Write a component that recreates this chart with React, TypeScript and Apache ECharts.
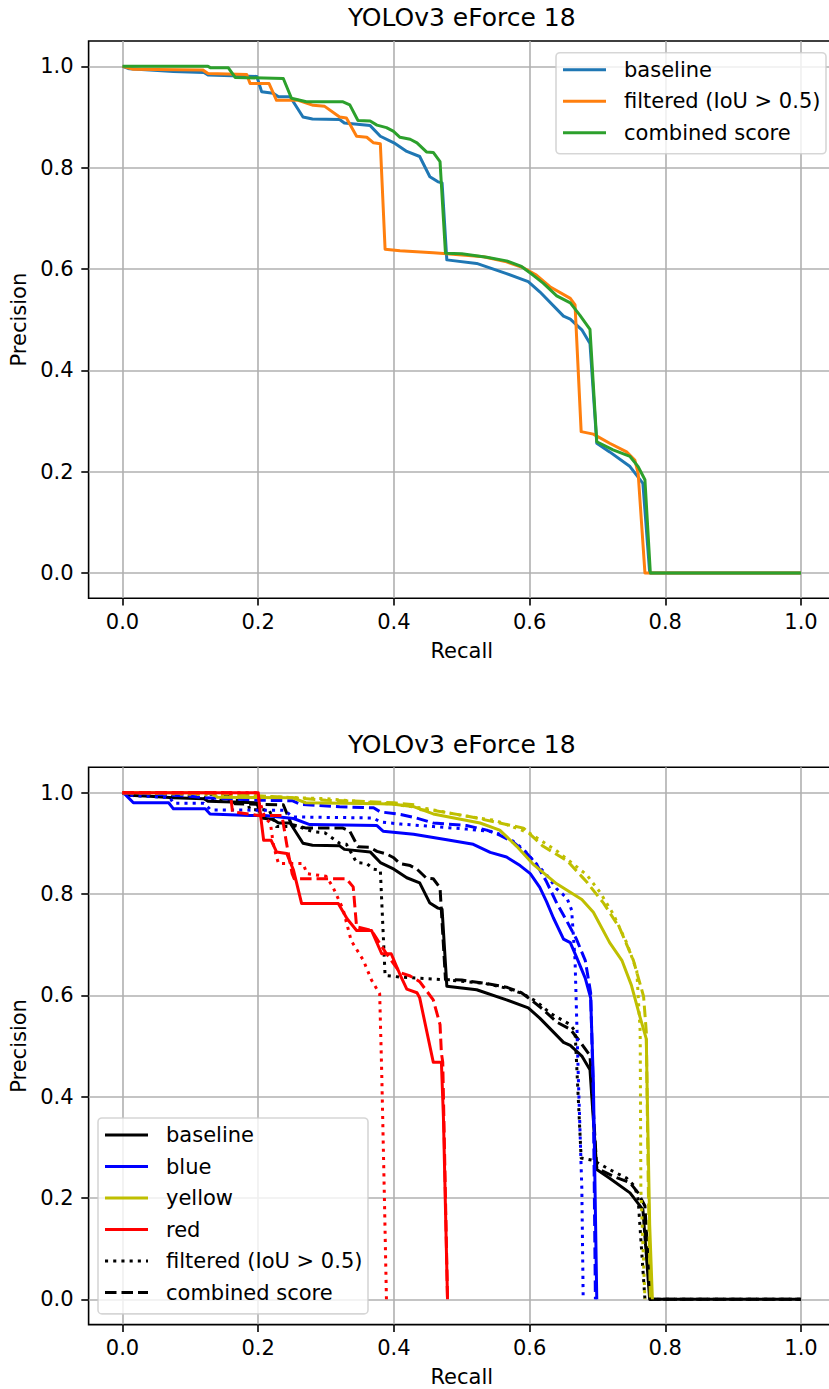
import React, { useEffect, useRef } from 'react';
import * as echarts from 'echarts';

// ---------------- data ----------------
const TITLE = 'YOLOv3 eForce 18';
const X_NAME = 'Recall';
const Y_NAME = 'Precision';
const X_TICKS = [0, 0.2, 0.4, 0.6, 0.8, 1.0];
const Y_TICKS = [0, 0.2, 0.4, 0.6, 0.8, 1.0];

// all classes (top plot; black curves of bottom plot)
const baseline: [number, number][] = [
  [0, 1.0], [0.01, 0.995], [0.04, 0.993], [0.075, 0.99], [0.12, 0.988], [0.126, 0.983], [0.198, 0.98],
  [0.205, 0.95], [0.222, 0.947], [0.23, 0.94], [0.247, 0.94], [0.266, 0.9], [0.28, 0.896], [0.32, 0.895],
  [0.327, 0.888], [0.365, 0.883], [0.38, 0.862], [0.4, 0.849], [0.419, 0.832], [0.438, 0.822], [0.453, 0.782],
  [0.465, 0.772], [0.471, 0.77], [0.478, 0.618], [0.522, 0.611], [0.566, 0.591], [0.598, 0.575], [0.615, 0.555],
  [0.65, 0.507], [0.66, 0.501], [0.677, 0.48], [0.689, 0.453], [0.699, 0.256], [0.718, 0.239], [0.748, 0.21],
  [0.767, 0.177], [0.777, 0.0], [1.0, 0.0],
];
const filtered: [number, number][] = [
  [0, 1.0], [0.016, 0.994], [0.118, 0.993], [0.126, 0.986], [0.183, 0.984], [0.188, 0.966], [0.216, 0.966],
  [0.227, 0.933], [0.259, 0.933], [0.281, 0.923], [0.298, 0.921], [0.32, 0.9], [0.33, 0.898], [0.345, 0.862],
  [0.36, 0.86], [0.37, 0.849], [0.38, 0.847], [0.387, 0.639], [0.409, 0.636], [0.458, 0.632], [0.478, 0.63],
  [0.532, 0.624], [0.566, 0.614], [0.59, 0.603], [0.61, 0.588], [0.63, 0.565], [0.66, 0.542], [0.667, 0.529],
  [0.676, 0.279], [0.694, 0.274], [0.718, 0.256], [0.743, 0.239], [0.755, 0.223], [0.76, 0.197], [0.77, 0.0],
  [1.0, 0.0],
];
const combined: [number, number][] = [
  [0, 1.0], [0.126, 1.0], [0.13, 0.997], [0.156, 0.997], [0.166, 0.978], [0.237, 0.976], [0.249, 0.937],
  [0.271, 0.93], [0.325, 0.93], [0.335, 0.924], [0.347, 0.893], [0.365, 0.892], [0.375, 0.884], [0.389, 0.879],
  [0.399, 0.872], [0.409, 0.86], [0.424, 0.856], [0.434, 0.849], [0.448, 0.831], [0.458, 0.83], [0.468, 0.812],
  [0.476, 0.631], [0.5, 0.63], [0.537, 0.623], [0.566, 0.616], [0.588, 0.605], [0.605, 0.588], [0.62, 0.572],
  [0.64, 0.547], [0.66, 0.533], [0.674, 0.509], [0.689, 0.481], [0.699, 0.259], [0.723, 0.243], [0.748, 0.23],
  [0.76, 0.21], [0.77, 0.184], [0.778, 0.0], [1.0, 0.0],
];

// blue class
const blueBaseline: [number, number][] = [
  [0, 1.0], [0.005, 0.995], [0.016, 0.98], [0.068, 0.98], [0.075, 0.968], [0.122, 0.968], [0.129, 0.958],
  [0.188, 0.955], [0.21, 0.955], [0.252, 0.949], [0.276, 0.937], [0.375, 0.935], [0.384, 0.924], [0.429, 0.918],
  [0.478, 0.907], [0.517, 0.898], [0.542, 0.882], [0.566, 0.873], [0.586, 0.856], [0.601, 0.84], [0.615, 0.813],
  [0.625, 0.785], [0.635, 0.753], [0.65, 0.711], [0.66, 0.704], [0.669, 0.676], [0.682, 0.634], [0.69, 0.595],
  [0.694, 0.43], [0.699, 0.0],
];
const blueFiltered: [number, number][] = [
  [0, 1.0], [0.01, 0.995], [0.07, 0.99], [0.075, 0.979], [0.12, 0.979], [0.13, 0.966], [0.24, 0.965],
  [0.25, 0.952], [0.37, 0.95], [0.38, 0.942], [0.41, 0.938], [0.458, 0.933], [0.507, 0.928], [0.547, 0.923],
  [0.571, 0.909], [0.591, 0.888], [0.61, 0.859], [0.625, 0.838], [0.64, 0.81], [0.655, 0.792], [0.662, 0.768],
  [0.667, 0.669], [0.672, 0.43], [0.677, 0.218], [0.679, 0.0],
];
const blueCombined: [number, number][] = [
  [0, 1.0], [0.1, 0.993], [0.12, 0.99], [0.15, 0.988], [0.2, 0.985], [0.25, 0.984], [0.262, 0.977],
  [0.32, 0.972], [0.37, 0.97], [0.38, 0.962], [0.41, 0.957], [0.43, 0.951], [0.458, 0.94], [0.507, 0.935],
  [0.537, 0.926], [0.556, 0.916], [0.576, 0.902], [0.596, 0.88], [0.61, 0.859], [0.625, 0.824], [0.64, 0.782],
  [0.655, 0.746], [0.669, 0.711], [0.682, 0.669], [0.69, 0.605], [0.694, 0.4], [0.697, 0.0],
];

// yellow class
const yellowBaseline: [number, number][] = [
  [0, 1.0], [0.13, 1.0], [0.14, 0.991], [0.25, 0.99], [0.27, 0.98], [0.38, 0.978], [0.4, 0.977], [0.43, 0.972],
  [0.45, 0.962], [0.458, 0.958], [0.527, 0.94], [0.556, 0.926], [0.581, 0.894], [0.605, 0.859], [0.64, 0.82],
  [0.677, 0.789], [0.694, 0.764], [0.718, 0.704], [0.736, 0.669], [0.75, 0.62], [0.763, 0.556], [0.772, 0.514],
  [0.774, 0.359], [0.777, 0.147], [0.781, 0.0],
];
const yellowFiltered: [number, number][] = [
  [0, 1.0], [0.15, 0.995], [0.3, 0.988], [0.4, 0.977], [0.45, 0.968], [0.5, 0.955], [0.55, 0.945], [0.6, 0.92],
  [0.64, 0.885], [0.684, 0.838], [0.704, 0.803], [0.723, 0.761], [0.743, 0.704], [0.758, 0.648], [0.763, 0.528],
  [0.764, 0.218], [0.77, 0.0],
];
const yellowCombined: [number, number][] = [
  [0, 1.0], [0.15, 0.998], [0.25, 0.99], [0.3, 0.985], [0.35, 0.983], [0.4, 0.98], [0.43, 0.976], [0.44, 0.966],
  [0.458, 0.965], [0.507, 0.954], [0.556, 0.94], [0.591, 0.93], [0.62, 0.894], [0.655, 0.866], [0.684, 0.824],
  [0.709, 0.782], [0.733, 0.732], [0.753, 0.669], [0.768, 0.598], [0.772, 0.528], [0.775, 0.218], [0.778, 0.0],
];

// red class
const redBaseline: [number, number][] = [
  [0, 1.0], [0.2, 1.0], [0.203, 0.96], [0.208, 0.906], [0.219, 0.906], [0.227, 0.883], [0.242, 0.88],
  [0.252, 0.847], [0.264, 0.781], [0.318, 0.781], [0.331, 0.751], [0.345, 0.728], [0.367, 0.728], [0.382, 0.682],
  [0.396, 0.682], [0.409, 0.641], [0.419, 0.612], [0.434, 0.605], [0.438, 0.595], [0.458, 0.468], [0.47, 0.468],
  [0.473, 0.359], [0.479, 0.0],
];
const redFiltered: [number, number][] = [
  [0, 1.0], [0.198, 1.0], [0.21, 0.95], [0.218, 0.94], [0.222, 0.9], [0.227, 0.873], [0.23, 0.86], [0.266, 0.86],
  [0.272, 0.84], [0.3, 0.835], [0.31, 0.814], [0.325, 0.77], [0.337, 0.708], [0.355, 0.669], [0.367, 0.63],
  [0.379, 0.603], [0.382, 0.45], [0.386, 0.2], [0.389, 0.0],
];
const redCombined: [number, number][] = [
  [0, 1.0], [0.159, 1.0], [0.162, 0.962], [0.2, 0.955], [0.235, 0.955], [0.242, 0.898], [0.25, 0.84],
  [0.253, 0.83], [0.33, 0.83], [0.34, 0.814], [0.345, 0.735], [0.367, 0.728], [0.389, 0.682], [0.409, 0.645],
  [0.424, 0.638], [0.438, 0.627], [0.458, 0.591], [0.468, 0.542], [0.47, 0.486], [0.472, 0.468], [0.479, 0.0],
];

const TOP_LEGEND = ['baseline', 'filtered (IoU > 0.5)', 'combined score'];
const BOTTOM_LEGEND = ['baseline', 'blue', 'yellow', 'red', 'filtered (IoU > 0.5)', 'combined score'];

// ---------------- styles / layout ----------------
const W = 829;
const H = 1389;
const PLOT_LEFT = 88.6;
const PLOT_WIDTH = 746.3;
const PLOT_HEIGHT = 557.3;
const TOP1 = 41;
const TOP2 = 767.3;
const CX = PLOT_LEFT + PLOT_WIDTH / 2;
const FONT = '"DejaVu Sans", "Liberation Sans", sans-serif';
const FS = 21;
const TITLE_FS = 25;
const LW = 3;
const DOT = [3.1, 5.1];
const DASH = [11.5, 5];
const C_TAB_BLUE = '#1f77b4';
const C_TAB_ORANGE = '#ff7f0e';
const C_TAB_GREEN = '#2ca02c';
const C_K = '#000000';
const C_B = '#0000ff';
const C_Y = '#bfbf00';
const C_R = '#ff0000';

function makeAxes(gridIndex: number) {
  const common = {
    gridIndex,
    type: 'value' as const,
    min: -0.05,
    max: 1.05,
    axisLine: { show: false, onZero: false },
    axisTick: {
      show: true,
      inside: false,
      length: 7.3,
      lineStyle: { color: '#000', width: 1.6 },
      customValues: X_TICKS,
    },
    splitLine: { show: true, lineStyle: { color: '#b0b0b0', width: 1.6 } },
  };
  const x = {
    ...common,
    axisLabel: {
      customValues: X_TICKS,
      formatter: (v: number) => v.toFixed(1),
      fontSize: FS,
      fontFamily: FONT,
      color: '#000',
      margin: 13,
    },
  };
  const y = {
    ...common,
    axisTick: { ...common.axisTick, customValues: Y_TICKS },
    axisLabel: {
      customValues: Y_TICKS,
      formatter: (v: number) => v.toFixed(1),
      fontSize: FS,
      fontFamily: FONT,
      color: '#000',
      margin: 15,
    },
  };
  return { x, y };
}

function line(name: string, data: [number, number][], color: string, dash: any, idx: number) {
  return {
    type: 'line',
    name,
    data,
    xAxisIndex: idx,
    yAxisIndex: idx,
    showSymbol: false,
    symbol: 'none',
    silent: true,
    clip: true,
    emphasis: { disabled: true },
    lineStyle: { color, width: LW, type: dash, cap: 'butt', join: 'round' },
  };
}

function text(t: string, x: number, y: number, size: number, extra: any = {}) {
  return {
    type: 'text',
    x,
    y,
    z: 20,
    silent: true,
    ...extra,
    style: {
      text: t,
      x: 0,
      y: 0,
      fill: '#000',
      fontSize: size,
      fontFamily: FONT,
      align: 'center',
      verticalAlign: 'middle',
      textAlign: 'center',
      textVerticalAlign: 'middle',
    },
  };
}

function legend(
  left: number,
  top: number,
  width: number,
  items: { label: string; color: string; dash: number[] | null }[],
) {
  const rowH = 31.5;
  const height = 16.8 + items.length * 21.1 + (items.length - 1) * 10.5;
  const children: any[] = [
    {
      type: 'rect',
      shape: { x: left, y: top, width, height, r: 4 },
      style: { fill: 'rgba(255,255,255,0.8)', stroke: 'rgba(204,204,204,0.8)', lineWidth: 1.6 },
      z: 30,
    },
  ];
  items.forEach((it, i) => {
    const cy = top + 17 + i * rowH;
    children.push({
      type: 'line',
      shape: { x1: left + 7, y1: cy, x2: left + 50, y2: cy },
      style: { stroke: it.color, lineWidth: LW, lineDash: it.dash || null, lineCap: 'butt' },
      z: 31,
    });
    children.push({
      type: 'text',
      x: left + 68,
      y: cy,
      z: 31,
      style: {
        text: it.label,
        x: 0,
        y: 0,
        fill: '#000',
        fontSize: FS,
        fontFamily: FONT,
        align: 'left',
        verticalAlign: 'middle',
        textAlign: 'left',
        textVerticalAlign: 'middle',
      },
    });
  });
  return { type: 'group', silent: true, children };
}

export default function App() {
  const ref = useRef<HTMLDivElement>(null);

  useEffect(() => {
    if (!ref.current) return;
    const chart = echarts.init(ref.current, undefined, { renderer: 'svg' });
    const a0 = makeAxes(0);
    const a1 = makeAxes(1);
    const gridCommon = {
      left: PLOT_LEFT,
      width: PLOT_WIDTH,
      height: PLOT_HEIGHT,
      show: true,
      borderColor: '#000',
      borderWidth: 1.6,
      backgroundColor: 'transparent',
      containLabel: false,
      outerBoundsMode: 'none',
    };
    const option: any = {
      animation: false,
      backgroundColor: '#ffffff',
      grid: [
        { ...gridCommon, top: TOP1 },
        { ...gridCommon, top: TOP2 },
      ],
      xAxis: [a0.x, a1.x],
      yAxis: [a0.y, a1.y],
      series: [
        line('baseline', baseline, C_TAB_BLUE, 'solid', 0),
        line('filtered (IoU > 0.5)', filtered, C_TAB_ORANGE, 'solid', 0),
        line('combined score', combined, C_TAB_GREEN, 'solid', 0),

        line('baseline', baseline, C_K, 'solid', 1),
        line('baseline filtered', filtered, C_K, DOT, 1),
        line('baseline combined', combined, C_K, DASH, 1),
        line('blue', blueBaseline, C_B, 'solid', 1),
        line('blue filtered', blueFiltered, C_B, DOT, 1),
        line('blue combined', blueCombined, C_B, DASH, 1),
        line('yellow', yellowBaseline, C_Y, 'solid', 1),
        line('yellow filtered', yellowFiltered, C_Y, DOT, 1),
        line('yellow combined', yellowCombined, C_Y, DASH, 1),
        line('red', redBaseline, C_R, 'solid', 1),
        line('red filtered', redFiltered, C_R, DOT, 1),
        line('red combined', redCombined, C_R, DASH, 1),
      ],
      graphic: [
        text(TITLE, CX, TOP1 - 23.3, TITLE_FS),
        text(TITLE, CX, TOP2 - 23.3, TITLE_FS),
        text(X_NAME, CX, TOP1 + PLOT_HEIGHT + 52.5, FS),
        text(X_NAME, CX, TOP2 + PLOT_HEIGHT + 52.5, FS),
        text(Y_NAME, 19.2, TOP1 + PLOT_HEIGHT / 2, FS, { rotation: Math.PI / 2 }),
        text(Y_NAME, 19.2, TOP2 + PLOT_HEIGHT / 2, FS, { rotation: Math.PI / 2 }),
        legend(556, 52.7, 270, [
          { label: TOP_LEGEND[0], color: C_TAB_BLUE, dash: null },
          { label: TOP_LEGEND[1], color: C_TAB_ORANGE, dash: null },
          { label: TOP_LEGEND[2], color: C_TAB_GREEN, dash: null },
        ]),
        legend(98, 1118, 270, [
          { label: BOTTOM_LEGEND[0], color: C_K, dash: null },
          { label: BOTTOM_LEGEND[1], color: C_B, dash: null },
          { label: BOTTOM_LEGEND[2], color: C_Y, dash: null },
          { label: BOTTOM_LEGEND[3], color: C_R, dash: null },
          { label: BOTTOM_LEGEND[4], color: C_K, dash: DOT },
          { label: BOTTOM_LEGEND[5], color: C_K, dash: DASH },
        ]),
      ],
    };
    chart.setOption(option);
    return () => chart.dispose();
  }, []);

  return (
    <div
      ref={ref}
      style={{ position: 'absolute', left: 0, top: 0, width: W, height: H, overflow: 'hidden', background: '#fff' }}
    />
  );
}
